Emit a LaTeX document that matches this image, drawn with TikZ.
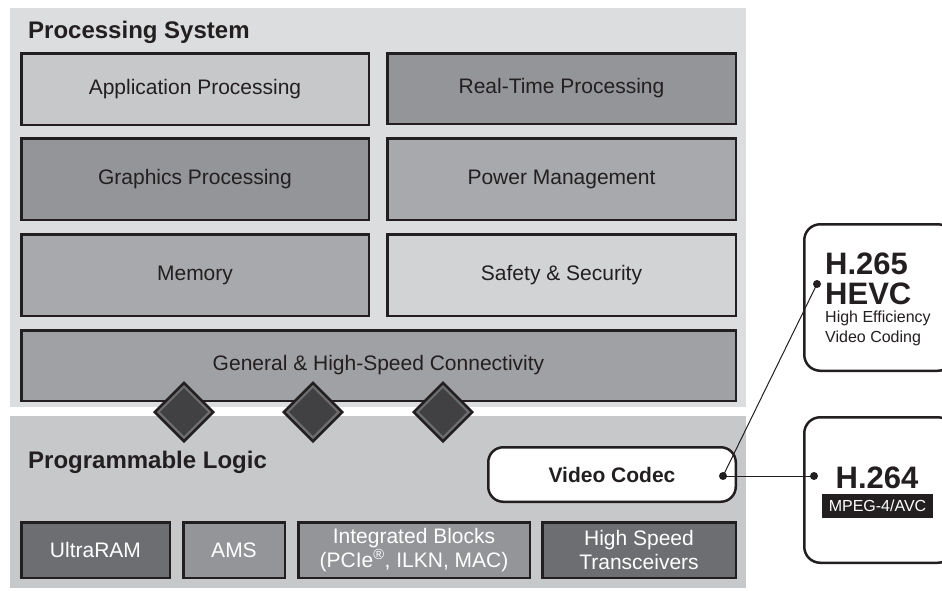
\documentclass[tikz,border=0pt]{standalone}
\usepackage{fontspec}
\setmainfont{Liberation Sans}
\usetikzlibrary{shapes.geometric}

\definecolor{ink}{HTML}{231F20}
\definecolor{psbg}{HTML}{DCDDDE}
\definecolor{plbg}{HTML}{C7C8CA}
\definecolor{gLight}{HTML}{C7C8CA}
\definecolor{gPale}{HTML}{D1D3D4}
\definecolor{gMid}{HTML}{A7A9AC}
\definecolor{gConn}{HTML}{A0A1A4}
\definecolor{gDark}{HTML}{939598}
\definecolor{gDeep}{HTML}{6D6E71}
\definecolor{gPort}{HTML}{414042}

\begin{document}
\begin{tikzpicture}  % ------ Zynq UltraScale+ EV : PS / PL --------
      [x=1pt, y=-1pt,
       bg/.style={rectangle, inner sep=0pt, draw=none},
       blk/.style={rectangle, draw=ink, line width=2.5pt, inner sep=0pt,
                   text=ink, align=center, font=\fontsize{21}{24}\selectfont},
       blkw/.style={blk, text=white},
       title/.style={anchor=base west, text=ink, inner sep=0pt,
                     font=\fontsize{24}{28}\selectfont\bfseries},
       codec/.style={blk, rounded corners=15pt, fill=white},
       port/.style={diamond, draw=ink, line width=2.5pt, fill=gPort,
                    inner sep=0pt, minimum width=59.5, minimum height=59.5},
       portin/.style={diamond, draw=gDeep, line width=2pt, fill=gPort,
                      inner sep=0pt, minimum width=52, minimum height=52},
       dot/.style={circle, fill=ink, inner sep=0pt, minimum size=8pt},
       link/.style={draw=ink, line width=1pt},
       big/.style={anchor=base west, text=ink, inner sep=0pt,
                   font=\fontsize{31}{31}\selectfont\bfseries},
       small/.style={anchor=base west, text=ink, inner sep=0pt,
                     font=\fontsize{16}{19}\selectfont}]

    \useasboundingbox (0,0) rectangle (942,590);

    % fonds PS et PL
    \node[bg, fill=psbg, minimum width=736, minimum height=399] (ps) at (378,207.5) {};
    \node[bg, fill=plbg, minimum width=736, minimum height=172] (pl) at (378,502) {};
    \node[title] (pstitle) at (28,38) {Processing System};
    \node[title] (pltitle) at (28,468) {Programmable Logic};

    % Processing System
    \node[blk, fill=gLight, minimum width=347.5, minimum height=71.5] (app) at (195,89) {Application Processing};
    \node[blk, fill=gDark,  minimum width=348.5, minimum height=70.5] (rtp) at (561.5,88.5) {Real-Time Processing};
    \node[blk, fill=gDark,  minimum width=347.5, minimum height=81.5] (gfx) at (195,179) {Graphics Processing};
    \node[blk, fill=gMid,   minimum width=348.5, minimum height=81.5] (pwr) at (561.5,179) {Power Management};
    \node[blk, fill=gMid,   minimum width=347.5, minimum height=81.5] (mem) at (195,275) {Memory};
    \node[blk, fill=gPale,  minimum width=348.5, minimum height=81.5] (saf) at (561.5,275) {Safety \& Security};
    \node[blk, fill=gConn,  minimum width=714.5, minimum height=70.5] (conn) at (378.5,365.5) {General \& High-Speed Connectivity};

    % liaisons PS-PL
    \foreach \x [count=\i] in {184,313,443} {
      \node[port] (port\i) at (\x,412) {};
      \node[portin] (portin\i) at (port\i) {};
    }

    % Programmable Logic
    \node[blkw, fill=gDeep, minimum width=148.5, minimum height=55.5] (uram) at (95.5,550) {UltraRAM};
    \node[blkw, fill=gDark, minimum width=101.5, minimum height=55.5] (ams) at (234,550) {AMS};
    \node[blkw, fill=gDark, minimum width=231.5, minimum height=55.5] (intb) at (414,550) {Integrated Blocks\\(PCIe\textsuperscript{\textregistered}, ILKN, MAC)};
    \node[blkw, fill=gDeep, minimum width=193.5, minimum height=55.5] (hst) at (639,550) {High Speed\\Transceivers};
    \node[codec, minimum width=247.5, minimum height=54.5, font=\fontsize{21}{24}\selectfont\bfseries] (vc) at (612,474.5) {Video Codec};

    % codecs
    \node[codec, rounded corners=16pt, minimum width=149.5, minimum height=146.5] (hevcbox) at (879,297.5) {};
    \node[codec, rounded corners=16pt, minimum width=149.5, minimum height=145.5] (avcbox) at (879,490) {};
    \node[big] (h265) at (825,274) {H.265};
    \node[big] (hevc) at (825,304) {HEVC};
    \node[small] (hevc1) at (825,322) {High Efficiency};
    \node[small] (hevc2) at (825,342) {Video Coding};
    \node[big, anchor=base] (h264) at (877,488) {H.264};
    \node[fill=ink, text=white, inner sep=0pt, minimum width=111, minimum height=24,
          font=\fontsize{16}{19}\selectfont] (mpeg) at (877.5,506) {MPEG-4/AVC};

    \node[dot] (vcdot) at (723,476) {};
    \node[dot] (hevcdot) at (817,284) {};
    \node[dot] (avcdot) at (814,476) {};
    \draw[link] (vcdot.center) -- (hevcdot.center) ;
    \draw[link] (vcdot.center) -- (avcdot.center) ;
\end{tikzpicture}
\end{document}
